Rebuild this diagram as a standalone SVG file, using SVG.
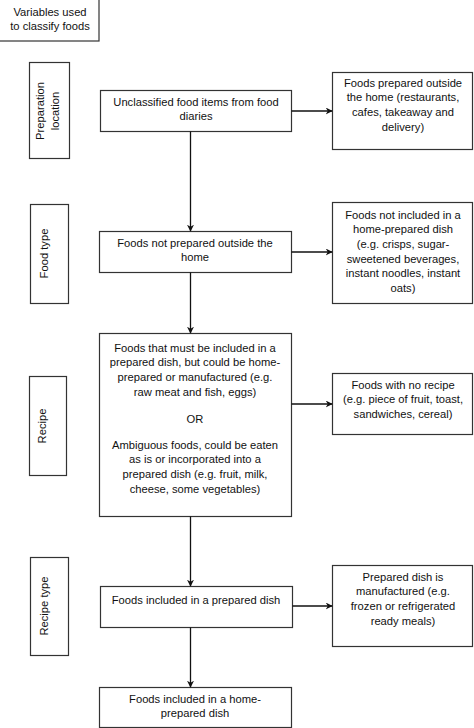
<svg xmlns="http://www.w3.org/2000/svg" width="474" height="728" viewBox="0 0 474 728">
<style>
.box{fill:#fff;stroke:#333;stroke-width:1.2}
.t{font-family:"Liberation Sans",Arial,sans-serif;font-size:11.2px;fill:#111;text-anchor:middle}
.c{stroke:#111;stroke-width:1.3;fill:none;marker-end:url(#ah)}
</style>
<defs>
<marker id="ah" viewBox="0 0 10 10" refX="9" refY="5" markerWidth="7" markerHeight="7" markerUnits="userSpaceOnUse" orient="auto">
<path d="M0,0 L10,5 L0,10 L3,5 Z" fill="#111"/>
</marker>
</defs>
<rect width="474" height="728" fill="#fff"/>
<g id="legend">
<rect class="box" x="-2" y="-2" width="101" height="43"/>
<text class="t" x="50" y="15.5">Variables used</text>
<text class="t" x="50" y="30">to classify foods</text>
</g>
<g id="label-preparation">
<rect class="box" x="29.5" y="62.5" width="40" height="96"/>
<text class="t" transform="translate(43.5,111) rotate(-90)"><tspan x="0" y="0">Preparation</tspan><tspan x="0" y="15">location</tspan></text>
</g>
<g id="label-foodtype">
<rect class="box" x="30.5" y="204.5" width="38" height="99"/>
<text class="t" transform="translate(47.7,253.5) rotate(-90)">Food type</text>
</g>
<g id="label-recipe">
<rect class="box" x="29.5" y="376.5" width="37" height="99"/>
<text class="t" transform="translate(46,426) rotate(-90)">Recipe</text>
</g>
<g id="label-recipetype">
<rect class="box" x="30.5" y="557.5" width="38" height="98"/>
<text class="t" transform="translate(47.7,606) rotate(-90)">Recipe type</text>
</g>
<g id="n-unclassified">
<rect class="box" x="100.5" y="90.5" width="191" height="41"/>
<text class="t" x="196" y="105.5">Unclassified food items from food</text>
<text class="t" x="196" y="120">diaries</text>
</g>
<g id="n-outside">
<rect class="box" x="332.5" y="72.5" width="140" height="77"/>
<text class="t" x="403" y="86.5">Foods prepared outside</text>
<text class="t" x="403" y="101.2">the home (restaurants,</text>
<text class="t" x="403" y="115.9">cafes, takeaway and</text>
<text class="t" x="403" y="130.6">delivery)</text>
</g>
<g id="n-notoutside">
<rect class="box" x="99.5" y="231.5" width="192" height="41"/>
<text class="t" x="195" y="246.5">Foods not prepared outside the</text>
<text class="t" x="195" y="261.2">home</text>
</g>
<g id="n-notincluded">
<rect class="box" x="332.5" y="202.5" width="140" height="101"/>
<text class="t" x="403" y="218.5">Foods not included in a</text>
<text class="t" x="403" y="233.2">home-prepared dish</text>
<text class="t" x="403" y="247.9">(e.g. crisps, sugar-</text>
<text class="t" x="403" y="262.6">sweetened beverages,</text>
<text class="t" x="403" y="277.3">instant noodles, instant</text>
<text class="t" x="403" y="292">oats)</text>
</g>
<g id="n-recipe">
<rect class="box" x="99.5" y="333.5" width="192" height="183"/>
<text class="t" x="195" y="351.5">Foods that must be included in a</text>
<text class="t" x="195" y="366.2">prepared dish, but could be home-</text>
<text class="t" x="195" y="380.9">prepared or manufactured (e.g.</text>
<text class="t" x="195" y="395.6">raw meat and fish, eggs)</text>
<text class="t" x="195" y="422.5">OR</text>
<text class="t" x="195" y="448.5">Ambiguous foods, could be eaten</text>
<text class="t" x="195" y="463.2">as is or incorporated into a</text>
<text class="t" x="195" y="477.9">prepared dish (e.g. fruit, milk,</text>
<text class="t" x="195" y="492.6">cheese, some vegetables)</text>
</g>
<g id="n-norecipe">
<rect class="box" x="332.5" y="373.5" width="140" height="61"/>
<text class="t" x="403" y="388.5">Foods with no recipe</text>
<text class="t" x="403" y="403.2">(e.g. piece of fruit, toast,</text>
<text class="t" x="403" y="417.9">sandwiches, cereal)</text>
</g>
<g id="n-included">
<rect class="box" x="100.5" y="586.5" width="192" height="41"/>
<text class="t" x="196" y="603.5">Foods included in a prepared dish</text>
</g>
<g id="n-manufactured">
<rect class="box" x="332.5" y="565.5" width="140" height="81"/>
<text class="t" x="403" y="580.5">Prepared dish is</text>
<text class="t" x="403" y="595.2">manufactured (e.g.</text>
<text class="t" x="403" y="609.9">frozen or refrigerated</text>
<text class="t" x="403" y="624.6">ready meals)</text>
</g>
<g id="n-home">
<rect class="box" x="99.5" y="687.5" width="192" height="40"/>
<text class="t" x="195" y="702.5">Foods included in a home-</text>
<text class="t" x="195" y="717.2">prepared dish</text>
</g>
<g id="connectors">
<path class="c" d="M190.5,131.5 V231"/>
<path class="c" d="M291.5,111 H332"/>
<path class="c" d="M190.5,272.5 V333"/>
<path class="c" d="M291.5,252 H332"/>
<path class="c" d="M190.5,516.5 V586"/>
<path class="c" d="M291.5,404 H332"/>
<path class="c" d="M190.5,627.5 V687"/>
<path class="c" d="M292.5,606 H332"/>
</g>
</svg>
